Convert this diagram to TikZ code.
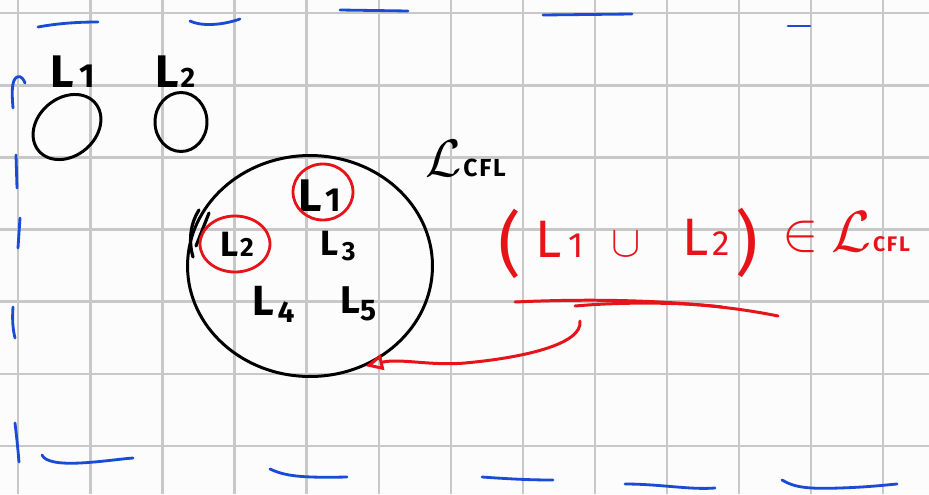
\documentclass[tikz,border=0pt]{standalone}
\usepackage{graphicx}
\usepackage{fontspec}
\setmainfont{Fira Sans}
\usetikzlibrary{shapes.geometric,arrows.meta}
\definecolor{bg}{RGB}{252,252,252}
\definecolor{gridc}{RGB}{200,200,200}
\definecolor{bluepen}{RGB}{25,75,215}
\definecolor{redpen}{RGB}{230,20,25}
\newcommand\dg[2][19]{{\fontsize{#1}{#1}\selectfont #2}}
\newcommand\mathbig[2]{\scalebox{#1}{\fontsize{10}{10}\selectfont$#2$}}
\begin{document}
\begin{tikzpicture}[x=0.02cm,y=-0.02cm,
  grid line/.style={draw=gridc, line width=1.3pt},
  blue stroke/.style={draw=bluepen, line width=1.6pt, line cap=round},
  black stroke/.style={draw=black, line width=1.8pt, line cap=round},
  red stroke/.style={draw=redpen, line width=1.7pt, line cap=round},
  hw/.style={inner sep=0pt, anchor=base west, font=\fontsize{26}{26}\selectfont\bfseries},
  lang/.style={ellipse, draw, line width=1.7pt, inner sep=0pt},
  ring/.style={ellipse, draw=redpen, line width=1.6pt, inner sep=0pt},
  rtext/.style={inner sep=0pt, text=redpen}]
\useasboundingbox (0,0) rectangle (929,494);
\fill[bg] (0,0) rectangle (929,494);
% grid
\foreach \i in {0,...,12} \draw[grid line] ({18.3+72.07*\i},0) -- ({18.3+72.07*\i},494);
\foreach \j in {0,...,6} \draw[grid line] (0,{13.3+72.07*\j}) -- (929,{13.3+72.07*\j});
% blue frame strokes
\draw[blue stroke] (38,27) .. controls (60,23) and (80,22) .. (98,22);
\draw[blue stroke] (190,21) .. controls (200,26) and (220,26) .. (240,19);
\draw[blue stroke] (340,10) -- (408,11);
\draw[blue stroke] (543,15) -- (632,14);
\draw[blue stroke] (788,26) -- (810,26);
\draw[blue stroke] (13,108) .. controls (12,95) and (11,80) .. (17,77) .. controls (21,75) and (24,80) .. (25,83);
\draw[blue stroke] (16,155) -- (17,188);
\draw[blue stroke] (20,218) -- (18,248);
\draw[blue stroke] (13,307) .. controls (12,320) and (13,330) .. (15,338);
\draw[blue stroke] (15,423) .. controls (17,440) and (18,450) .. (19,462);
\draw[blue stroke] (42,455) .. controls (45,462) and (60,464) .. (80,463) .. controls (100,462) and (120,459) .. (133,458);
\draw[blue stroke] (270,469) .. controls (285,476) and (300,478) .. (347,477);
\draw[blue stroke] (482,477) .. controls (510,479) and (530,480) .. (553,480);
\draw[blue stroke] (625,484) .. controls (660,484) and (690,490) .. (715,488);
\draw[blue stroke] (782,480) .. controls (795,488) and (810,489) .. (840,488) .. controls (870,487) and (885,485) .. (897,484);
% top-left languages
\node[hw] (l1) at (50,87) {L\kern3pt\dg{1}};
\node[hw] (l2) at (155,87) {L\kern1pt\dg[16]{2}};
\node[lang, minimum width=1.48cm, minimum height=1.16cm, rotate=40] (c1) at (67,127) {};
\node[lang, minimum width=1.04cm, minimum height=1.18cm] (c2) at (181,122) {};
% big circle
\node[lang, minimum width=4.9cm, minimum height=4.42cm] (cfl) at (310,266) {};
\draw[black stroke] (199,210) .. controls (191,222) and (188,240) .. (193,257);
\draw[black stroke] (209,213) -- (196,246);
% inner languages
\node[hw] (i1) at (298,211) {L\kern2pt\dg{1}};
\node[ring, minimum width=1.2cm, minimum height=1.12cm] (r1) at (323,192) {};
\node[hw, font=\fontsize{20}{20}\selectfont\bfseries] (i2) at (220,256) {L\kern1pt\dg[15]{2}};
\node[ring, minimum width=1.4cm, minimum height=1.12cm] (r2) at (235,244) {};
\node[hw, font=\fontsize{20}{20}\selectfont\bfseries] (i3) at (320,255) {L\kern2pt\raisebox{-3pt}{\dg[15]{3}}};
\node[hw, font=\fontsize{24}{24}\selectfont\bfseries] (i4) at (252,315) {L\kern2pt\raisebox{-4pt}{\dg[17]{4}}};
\node[hw, font=\fontsize{22}{22}\selectfont\bfseries] (i5) at (340,313) {L\raisebox{-4pt}{\dg[17]{5}}};
% L_CFL label
\node[hw] (lcfl) at (425,176) {\mathbig{3.0}{\mathcal{L}}\kern1pt{\fontsize{14}{14}\selectfont\bfseries C\kern1pt F\kern1pt L}};
% red formula
\node[rtext, font=\fontsize{40}{40}\selectfont] (lp) at (510,244) {(};
\node[hw, rtext, font=\fontsize{30}{30}\selectfont] (rl1) at (535,257) {L\kern4pt\dg[20]{1}};
\node[rtext] (cup) at (626,244) {\mathbig{2.5}{\cup}};
\node[hw, rtext, font=\fontsize{30}{30}\selectfont] (rl2) at (682,255) {L\kern2pt\dg[20]{2}};
\node[rtext, font=\fontsize{40}{40}\selectfont] (rp) at (747,243) {)};
\node[rtext] (in) at (801,237) {\mathbig{3.1}{\in}};
\node[hw, rtext] (rcfl) at (831,251) {\mathbig{3.3}{\mathcal{L}}\kern1pt{\fontsize{12}{12}\selectfont\bfseries C\kern1pt F\kern1pt L}};
% underline and arrow
\draw[red stroke] (515,302) .. controls (600,298) and (700,300) .. (778,316);
\draw[red stroke] (575,306) .. controls (620,302) and (680,302) .. (722,307);
\coordinate (u) at (580,321);
\draw[red stroke, -{Triangle[open, length=10pt, width=9pt]}] (u) .. controls (583,345) and (520,358) .. (465,363) .. controls (430,366) and (400,358) .. (cfl.-61);
\end{tikzpicture}
\end{document}
